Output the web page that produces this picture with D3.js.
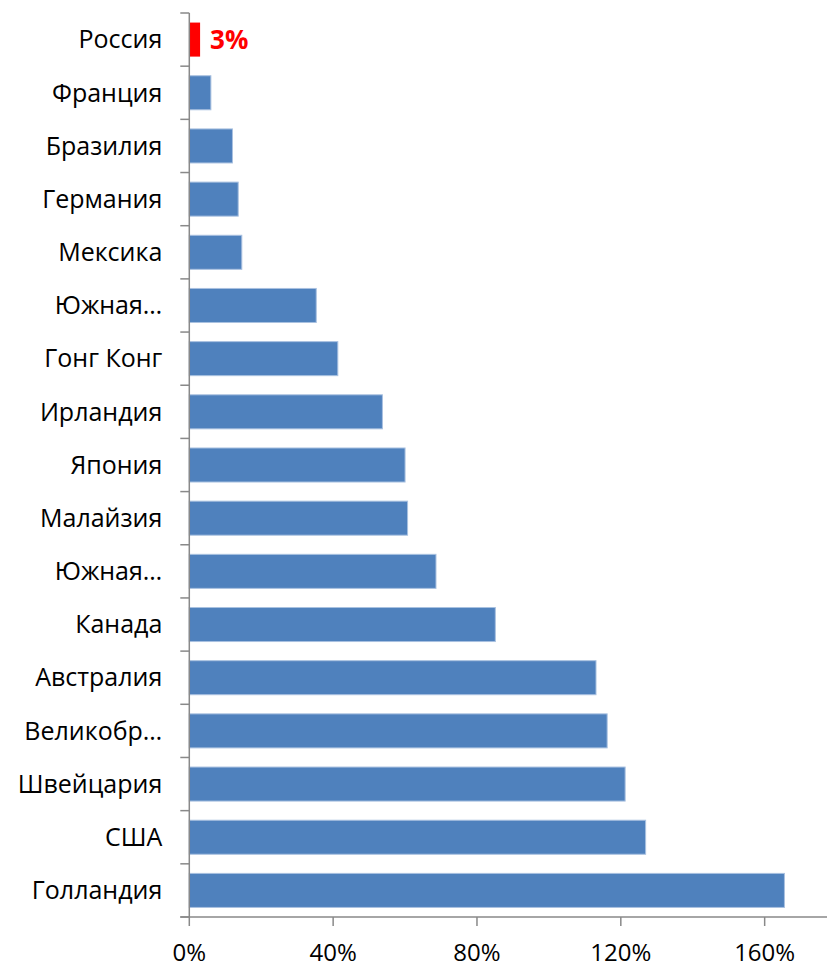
<!DOCTYPE html>
<html>
<head>
<meta charset="utf-8">
<script src="https://cdn.jsdelivr.net/npm/d3@7"></script>
<style>
  body { margin: 0; background: #fff; }
  text { font-family: "Open Sans", "Noto Sans", sans-serif; }
</style>
</head>
<body>
<div id="vis"></div>
<script>
// countries, top to bottom
const countries = ['Россия', 'Франция', 'Бразилия', 'Германия', 'Мексика', 'Южная…',
  'Гонг Конг', 'Ирландия', 'Япония', 'Малайзия', 'Южная…', 'Канада', 'Австралия',
  'Великобр…', 'Швейцария', 'США', 'Голландия']
// share, %
const values = [3, 6, 12, 13.6, 14.6, 35.3, 41.3, 53.7, 60, 60.7, 68.6, 85.1, 113.1,
  116.2, 121.2, 126.9, 165.5]
const xTicks = [0, 40, 80, 120, 160]
const highlight = 'Россия'

const width = 827
const height = 967
const margin = { left: 189.3, top: 13, bottom: 50 }

const svg = d3.select('#vis')
  .append('svg')
  .attr('width', width)
  .attr('height', height)

// index keeps the duplicated "Южная…" labels apart
const idx = d3.range(countries.length)

const x = d3.scaleLinear()
  .domain([0, 180])
  .range([margin.left, margin.left + 180 * 3.596])

const y = d3.scaleBand()
  .domain(idx)
  .range([margin.top, height - margin.bottom])
  .paddingInner(0.36)
  .paddingOuter(0.18)

const axisColor = '#898989'

// bars
svg.append('g').selectAll('rect')
  .data(idx)
  .enter()
  .append('rect')
  .attr('x', x(0))
  .attr('y', i => y(i))
  .attr('width', i => x(values[i]) - x(0))
  .attr('height', y.bandwidth())
  .attr('fill', i => countries[i] === highlight ? '#ff0000' : '#4f81bd')
  .attr('stroke', i => countries[i] === highlight ? 'none' : '#a9c1e0')
  .attr('stroke-width', 1)

// value label for the highlighted bar
svg.append('g').selectAll('text')
  .data(idx.filter(i => countries[i] === highlight))
  .enter()
  .append('text')
  .attr('x', i => x(values[i]) + 10)
  .attr('y', i => y(i) + y.bandwidth() / 2)
  .attr('dy', '0.35em')
  .attr('fill', '#ff0000')
  .attr('font-size', 26)
  .attr('font-weight', 'bold')
  .text(i => values[i] + '%')

// category axis
const yTop = margin.top
const yBottom = height - margin.bottom
const boundaries = d3.range(countries.length + 1).map(k => yTop + k * (yBottom - yTop) / countries.length)

const gy = svg.append('g')
gy.append('line')
  .attr('x1', x(0)).attr('x2', x(0))
  .attr('y1', yTop).attr('y2', yBottom)
  .attr('stroke', axisColor).attr('stroke-width', 1.5)
gy.selectAll('.ytick')
  .data(boundaries)
  .enter()
  .append('line')
  .attr('class', 'ytick')
  .attr('x1', x(0) - 9).attr('x2', x(0))
  .attr('y1', d => d).attr('y2', d => d)
  .attr('stroke', axisColor).attr('stroke-width', 1.5)
gy.selectAll('.ylabel')
  .data(idx)
  .enter()
  .append('text')
  .attr('class', 'ylabel')
  .attr('x', x(0) - 27)
  .attr('y', i => y(i) + y.bandwidth() / 2)
  .attr('dy', '0.35em')
  .attr('text-anchor', 'end')
  .attr('font-size', 25)
  .attr('fill', '#000')
  .text(i => countries[i])

// value axis
const gx = svg.append('g')
gx.append('line')
  .attr('x1', x(0) - 9).attr('x2', x.range()[1])
  .attr('y1', yBottom).attr('y2', yBottom)
  .attr('stroke', axisColor).attr('stroke-width', 1.5)
gx.selectAll('.xtick')
  .data(xTicks)
  .enter()
  .append('line')
  .attr('class', 'xtick')
  .attr('x1', d => x(d)).attr('x2', d => x(d))
  .attr('y1', yBottom).attr('y2', yBottom + 9)
  .attr('stroke', axisColor).attr('stroke-width', 1.5)
gx.selectAll('.xlabel')
  .data(xTicks)
  .enter()
  .append('text')
  .attr('class', 'xlabel')
  .attr('x', d => x(d))
  .attr('y', yBottom + 44)
  .attr('text-anchor', 'middle')
  .attr('font-size', 24)
  .attr('fill', '#000')
  .text(d => d + '%')
</script>
</body>
</html>
